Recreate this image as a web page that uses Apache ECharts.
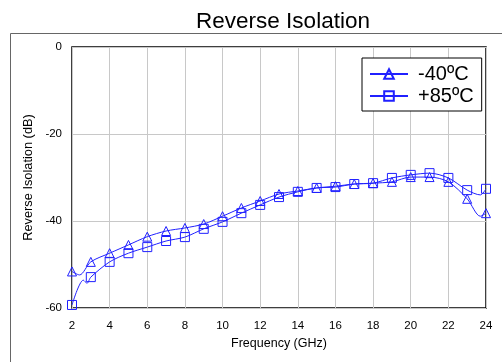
<!DOCTYPE html>
<html><head><meta charset="utf-8">
<script src="https://cdn.jsdelivr.net/npm/echarts@6/dist/echarts.min.js"></script>
<style>html,body{margin:0;padding:0;background:#fff}#c{width:502px;height:362px}</style>
</head><body><div id="c"></div>
<script>
const title = "Reverse Isolation";
const xName = "Frequency (GHz)";
const yName = "Reverse Isolation (dB)";
const xTicks = [2,4,6,8,10,12,14,16,18,20,22,24];
const yTicks = [-60,-40,-20,0];
const freqCold = [2,2.4,3,4,5,6,7,8,9,10,11,12,13,14,15,16,17,18,19,20,21,22,23,23.7,24];
const cold = [-51.6,-52.4,-49.4,-47.4,-45.5,-43.6,-42.3,-41.6,-40.7,-38.9,-37.0,-35.4,-33.8,-33.1,-32.4,-32.0,-31.5,-31.3,-31.0,-29.9,-29.9,-31.0,-34.9,-38.9,-38.2];
const freqHot = [2,2.6,2.8,3,4,5,6,7,8,9,10,11,12,13,14,15,16,17,18,19,20,21,22,23,23.7,24];
const hot = [-59.3,-53.6,-54.3,-52.9,-49.4,-47.4,-46.0,-44.6,-43.7,-41.8,-40.2,-38.2,-36.3,-34.5,-33.3,-32.4,-32.2,-31.5,-31.3,-30.1,-29.4,-29.0,-30.1,-32.9,-34.0,-32.6];
const names = ["-40ºC", "+85ºC"];
const blue = "#2020ff";

function mk(fs, vs){
  return fs.map((f,i)=> Number.isInteger(f) ? [f, vs[i]] : {value:[f, vs[i]], symbol:'none'});
}
const chart = echarts.init(document.getElementById('c'), null, {renderer:'canvas'});
const font = "Liberation Sans, Arial, sans-serif";
chart.setOption({
  animation:false,
  textStyle:{fontFamily:font},
  title:{text:title, left:278, top:5, textAlign:'center', textStyle:{fontSize:22.5, fontWeight:'normal', color:'#000', fontFamily:font}},
  graphic:[{type:'rect', shape:{x:10.5,y:33.5,width:520,height:360}, style:{fill:'none', stroke:'#666', lineWidth:1}, z:-1}],
  grid:{left:72, top:47, width:414, height:261, show:true, borderColor:'#000', borderWidth:1.5, backgroundColor:'transparent'},
  legend:{
    left:362, top:58, width:117, orient:'vertical', backgroundColor:'#fff', borderColor:'#000', borderWidth:1,
    padding:[6,8,5,7], itemGap:2, itemWidth:38, itemHeight:12,
    textStyle:{fontSize:20, color:'#000', fontFamily:font, lineHeight:20, padding:[0,0,0,5]},
    data:[names[0], names[1]]
  },
  xAxis:{type:'value', min:2, max:24, interval:2, name:xName, nameLocation:'middle', nameGap:28,
    nameTextStyle:{fontSize:12.5, color:'#000'},
    axisLine:{show:false}, axisTick:{show:false},
    axisLabel:{fontSize:11.5, color:'#000', margin:12},
    splitLine:{show:true, lineStyle:{color:'#c8c8c8', width:1}}},
  yAxis:{type:'value', min:-60, max:0, interval:20, name:yName, nameLocation:'middle', nameGap:37,
    nameTextStyle:{fontSize:12.8, color:'#000'},
    axisLine:{show:false}, axisTick:{show:false},
    axisLabel:{fontSize:11.5, color:'#000', margin:10},
    splitLine:{show:true, lineStyle:{color:'#c8c8c8', width:1}}},
  series:[
    {name:names[0], type:'line', data:mk(freqCold,cold), smooth:0.3, symbol:'triangle', symbolSize:9,
      lineStyle:{color:blue, width:1}, itemStyle:{color:'rgba(0,0,0,0)', borderColor:blue, borderWidth:1}, z:3},
    {name:names[1], type:'line', data:mk(freqHot,hot), smooth:0.3, symbol:'rect', symbolSize:9,
      lineStyle:{color:blue, width:1}, itemStyle:{color:'rgba(0,0,0,0)', borderColor:blue, borderWidth:1}, z:3}
  ]
});
</script></body></html>
